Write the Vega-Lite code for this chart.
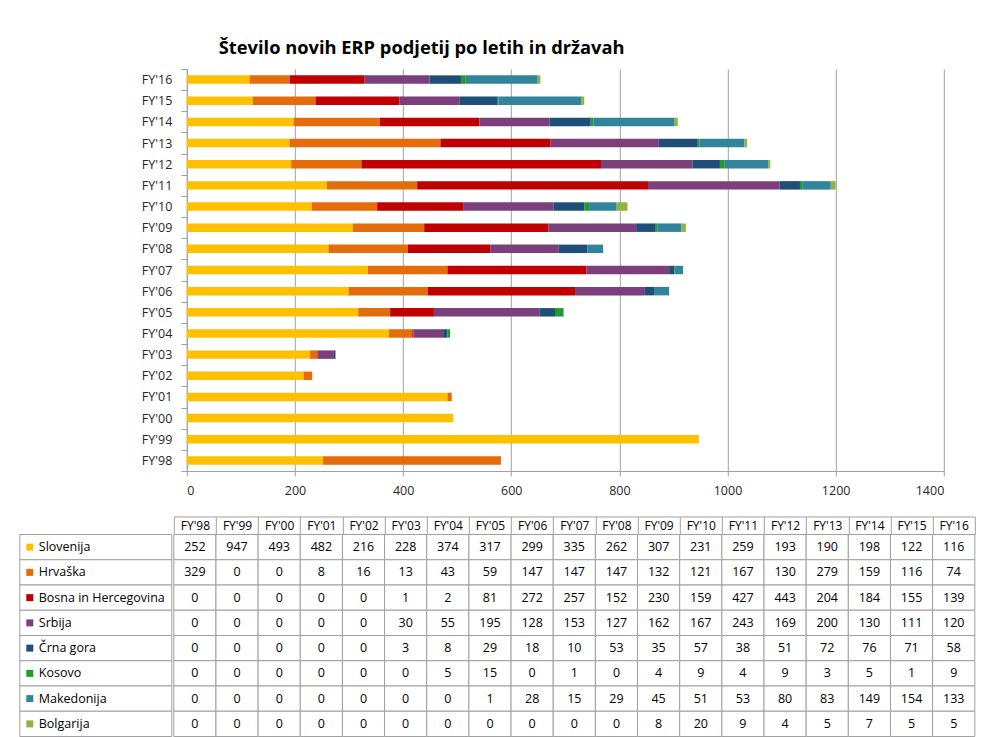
{
  "$schema": "https://vega.github.io/schema/vega-lite/v6.json",
  "background": "white",
  "padding": {"left": 18.8, "top": 38, "right": 0, "bottom": 0},
  "config": {
    "view": {"stroke": null},
    "font": "Open Sans",
    "axis": {"labelFont": "Open Sans", "labelFontSize": 12.5, "labelColor": "#262626"}
  },
  "datasets": {
    "d": [
      {"y": "FY'98", "Slovenija": 252, "Hrvaška": 329, "Bosna in Hercegovina": 0, "Srbija": 0, "Črna gora": 0, "Kosovo": 0, "Makedonija": 0, "Bolgarija": 0},
      {"y": "FY'99", "Slovenija": 947, "Hrvaška": 0, "Bosna in Hercegovina": 0, "Srbija": 0, "Črna gora": 0, "Kosovo": 0, "Makedonija": 0, "Bolgarija": 0},
      {"y": "FY'00", "Slovenija": 493, "Hrvaška": 0, "Bosna in Hercegovina": 0, "Srbija": 0, "Črna gora": 0, "Kosovo": 0, "Makedonija": 0, "Bolgarija": 0},
      {"y": "FY'01", "Slovenija": 482, "Hrvaška": 8, "Bosna in Hercegovina": 0, "Srbija": 0, "Črna gora": 0, "Kosovo": 0, "Makedonija": 0, "Bolgarija": 0},
      {"y": "FY'02", "Slovenija": 216, "Hrvaška": 16, "Bosna in Hercegovina": 0, "Srbija": 0, "Črna gora": 0, "Kosovo": 0, "Makedonija": 0, "Bolgarija": 0},
      {"y": "FY'03", "Slovenija": 228, "Hrvaška": 13, "Bosna in Hercegovina": 1, "Srbija": 30, "Črna gora": 3, "Kosovo": 0, "Makedonija": 0, "Bolgarija": 0},
      {"y": "FY'04", "Slovenija": 374, "Hrvaška": 43, "Bosna in Hercegovina": 2, "Srbija": 55, "Črna gora": 8, "Kosovo": 5, "Makedonija": 0, "Bolgarija": 0},
      {"y": "FY'05", "Slovenija": 317, "Hrvaška": 59, "Bosna in Hercegovina": 81, "Srbija": 195, "Črna gora": 29, "Kosovo": 15, "Makedonija": 1, "Bolgarija": 0},
      {"y": "FY'06", "Slovenija": 299, "Hrvaška": 147, "Bosna in Hercegovina": 272, "Srbija": 128, "Črna gora": 18, "Kosovo": 0, "Makedonija": 28, "Bolgarija": 0},
      {"y": "FY'07", "Slovenija": 335, "Hrvaška": 147, "Bosna in Hercegovina": 257, "Srbija": 153, "Črna gora": 10, "Kosovo": 1, "Makedonija": 15, "Bolgarija": 0},
      {"y": "FY'08", "Slovenija": 262, "Hrvaška": 147, "Bosna in Hercegovina": 152, "Srbija": 127, "Črna gora": 53, "Kosovo": 0, "Makedonija": 29, "Bolgarija": 0},
      {"y": "FY'09", "Slovenija": 307, "Hrvaška": 132, "Bosna in Hercegovina": 230, "Srbija": 162, "Črna gora": 35, "Kosovo": 4, "Makedonija": 45, "Bolgarija": 8},
      {"y": "FY'10", "Slovenija": 231, "Hrvaška": 121, "Bosna in Hercegovina": 159, "Srbija": 167, "Črna gora": 57, "Kosovo": 9, "Makedonija": 51, "Bolgarija": 20},
      {"y": "FY'11", "Slovenija": 259, "Hrvaška": 167, "Bosna in Hercegovina": 427, "Srbija": 243, "Črna gora": 38, "Kosovo": 4, "Makedonija": 53, "Bolgarija": 9},
      {"y": "FY'12", "Slovenija": 193, "Hrvaška": 130, "Bosna in Hercegovina": 443, "Srbija": 169, "Črna gora": 51, "Kosovo": 9, "Makedonija": 80, "Bolgarija": 4},
      {"y": "FY'13", "Slovenija": 190, "Hrvaška": 279, "Bosna in Hercegovina": 204, "Srbija": 200, "Črna gora": 72, "Kosovo": 3, "Makedonija": 83, "Bolgarija": 5},
      {"y": "FY'14", "Slovenija": 198, "Hrvaška": 159, "Bosna in Hercegovina": 184, "Srbija": 130, "Črna gora": 76, "Kosovo": 5, "Makedonija": 149, "Bolgarija": 7},
      {"y": "FY'15", "Slovenija": 122, "Hrvaška": 116, "Bosna in Hercegovina": 155, "Srbija": 111, "Črna gora": 71, "Kosovo": 1, "Makedonija": 154, "Bolgarija": 5},
      {"y": "FY'16", "Slovenija": 116, "Hrvaška": 74, "Bosna in Hercegovina": 139, "Srbija": 120, "Črna gora": 58, "Kosovo": 9, "Makedonija": 133, "Bolgarija": 5}
    ],
    "countries": [
      {"c": "Slovenija"}, {"c": "Hrvaška"}, {"c": "Bosna in Hercegovina"}, {"c": "Srbija"},
      {"c": "Črna gora"}, {"c": "Kosovo"}, {"c": "Makedonija"}, {"c": "Bolgarija"}
    ]
  },
  "spacing": 17.5,
  "vconcat": [
    {
      "width": 924,
      "height": 402,
      "title": {
        "text": "Število novih ERP podjetij po letih in državah",
        "anchor": "start", "frame": "group", "dx": 199, "offset": 5,
        "font": "Open Sans", "fontSize": 18.3, "fontWeight": "bold", "color": "#000000"
      },
      "data": {"name": "d"},
      "transform": [
        {"fold": ["Slovenija", "Hrvaška", "Bosna in Hercegovina", "Srbija", "Črna gora", "Kosovo", "Makedonija", "Bolgarija"], "as": ["c", "v"]},
        {"stack": "v", "groupby": ["y"], "as": ["v0", "v1"], "offset": "zero"}
      ],
      "mark": {"type": "bar", "height": {"band": 0.4}},
      "encoding": {
        "y": {
          "field": "y", "type": "nominal",
          "sort": ["FY'16", "FY'15", "FY'14", "FY'13", "FY'12", "FY'11", "FY'10", "FY'09", "FY'08", "FY'07", "FY'06", "FY'05", "FY'04", "FY'03", "FY'02", "FY'01", "FY'00", "FY'99", "FY'98"],
          "scale": {"padding": 0},
          "axis": {"title": null, "offset": -167, "tickBand": "extent", "tickSize": 6, "labelPadding": 9, "domainColor": "#a0a0a0", "tickColor": "#a0a0a0", "labelColor": "#262626", "grid": false}
        },
        "x": {
          "field": "v0", "type": "quantitative",
          "scale": {"domain": [0, 1400], "range": [167, 924], "nice": false},
          "axis": {"title": null, "values": [0, 200, 400, 600, 800, 1000, 1200, 1400], "format": "d", "grid": true, "gridColor": "#a0a0a0", "domainColor": "#a0a0a0", "tickColor": "#a0a0a0", "tickSize": 5, "labelPadding": 9}
        },
        "x2": {"field": "v1"},
        "color": {
          "field": "c", "type": "nominal",
          "scale": {
            "domain": ["Slovenija", "Hrvaška", "Bosna in Hercegovina", "Srbija", "Črna gora", "Kosovo", "Makedonija", "Bolgarija"],
            "range": ["#FFC000", "#E46C0A", "#C00000", "#7B3F7B", "#1F4E79", "#229A2D", "#31849B", "#8DB443"]
          },
          "legend": null
        }
      }
    },
    {
      "spacing": 0,
      "hconcat": [
        {
          "width": 152,
          "height": 202,
          "data": {"name": "countries"},
          "encoding": {
            "y": {"field": "c", "type": "nominal", "sort": ["Slovenija", "Hrvaška", "Bosna in Hercegovina", "Srbija", "Črna gora", "Kosovo", "Makedonija", "Bolgarija"], "scale": {"padding": 0}, "axis": null}
          },
          "layer": [
            {"mark": {"type": "rect", "fill": "white", "stroke": "#a0a0a0", "strokeWidth": 1}},
            {
              "mark": {"type": "point", "shape": "square", "filled": true, "size": 49, "opacity": 1, "xOffset": -66},
              "encoding": {"color": {"field": "c", "type": "nominal", "legend": null}}
            },
            {
              "mark": {"type": "text", "align": "left", "dx": -57, "fontSize": 12.5, "font": "Open Sans", "color": "#000000"},
              "encoding": {"text": {"field": "c"}}
            }
          ]
        },
        {
          "width": 801,
          "height": 202,
          "data": {"name": "d"},
          "transform": [
            {"fold": ["Slovenija", "Hrvaška", "Bosna in Hercegovina", "Srbija", "Črna gora", "Kosovo", "Makedonija", "Bolgarija"], "as": ["c", "v"]}
          ],
          "encoding": {
            "x": {
              "field": "y", "type": "nominal",
              "sort": ["FY'98", "FY'99", "FY'00", "FY'01", "FY'02", "FY'03", "FY'04", "FY'05", "FY'06", "FY'07", "FY'08", "FY'09", "FY'10", "FY'11", "FY'12", "FY'13", "FY'14", "FY'15", "FY'16"],
              "scale": {"padding": 0},
              "axis": {"orient": "top", "title": null, "offset": 18, "tickSize": -18, "tickBand": "extent", "domainColor": "#a0a0a0", "tickColor": "#a0a0a0", "labelPadding": 5, "labelBaseline": "alphabetic", "labelAngle": 0, "labelOverlap": false, "labelColor": "#000000", "labelFontSize": 12}
            },
            "y": {"field": "c", "type": "nominal", "sort": ["Slovenija", "Hrvaška", "Bosna in Hercegovina", "Srbija", "Črna gora", "Kosovo", "Makedonija", "Bolgarija"], "scale": {"padding": 0}, "axis": null}
          },
          "layer": [
            {"mark": {"type": "rect", "fill": "white", "stroke": "#a0a0a0", "strokeWidth": 1}},
            {"mark": {"type": "text", "fontSize": 12.5, "font": "Open Sans", "color": "#000000"}, "encoding": {"text": {"field": "v", "type": "quantitative"}}}
          ]
        }
      ]
    }
  ]
}
